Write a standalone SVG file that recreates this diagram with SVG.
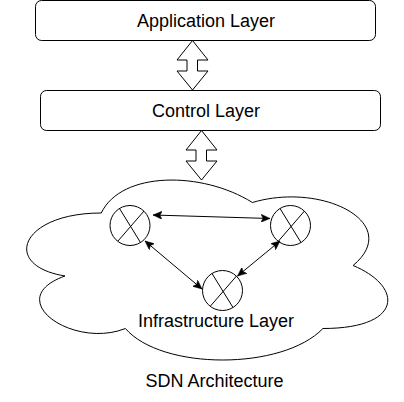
<svg xmlns="http://www.w3.org/2000/svg" width="404" height="402" viewBox="0 0 404 402">
<style>
.s{fill:#fff;stroke:#000;stroke-width:1}
.l{fill:none;stroke:#000;stroke-width:1}
text{font-family:"Liberation Sans",Arial,sans-serif;font-size:18px;fill:#000;text-anchor:middle}
</style>
<defs>
<marker id="a" viewBox="0 0 10 8" refX="9" refY="4" markerWidth="10" markerHeight="8" markerUnits="userSpaceOnUse" orient="auto-start-reverse"><path d="M0 0L9 4L0 8L2 4Z" fill="#000" stroke="#000" stroke-width="0.5"/></marker>
<g id="x"><circle class="s" r="20"/><path class="l" d="M-10.500 -17L10.500 17M14 -14.500L-12 15.500"/></g>
</defs>
<rect width="404" height="402" fill="#fff"/>
<g id="cloud"><path class="s" d="M101.250 213C20.650 213 .5 265.500 65 276C.5 299.100 73 349.500 125.400 328.500C161.700 370.500 282.500 370.500 322.900 328.500C403.500 328.500 403.500 286.500 353.100 265.500C403.500 223.500 322.900 181.500 252.400 202.500C202 171 121.400 171 101.250 213Z"/></g>
<g id="application"><rect class="s" x="35.500" y="0.500" width="340" height="40" rx="6" ry="6"/><text x="206" y="27">Application Layer</text></g>
<g id="control"><rect class="s" x="40.500" y="90.500" width="340" height="40" rx="6" ry="6"/><text x="206" y="117">Control Layer</text></g>
<g id="node1"><use href="#x" x="130" y="225.500"/></g>
<g id="node2"><use href="#x" x="290.500" y="225.500"/></g>
<g id="node3"><use href="#x" x="222.500" y="290.500"/></g>
<g id="connectors">
<path class="s" d="M192.500 40.500L208 60H197.500V71H208L192.500 90L177 71H187V60H177Z"/>
<path class="s" d="M201.500 130.500L217 150H206.500V161H217L201.500 180L186 161H196V150H186Z"/>
<path class="l" marker-start="url(#a)" marker-end="url(#a)" d="M153 215L270 218.500"/>
<path class="l" marker-start="url(#a)" marker-end="url(#a)" d="M145 241L202 289"/>
<path class="l" marker-start="url(#a)" marker-end="url(#a)" d="M280 241L237.500 276"/>
</g>
<text x="216" y="327">Infrastructure Layer</text>
<text x="214.500" y="387">SDN Architecture</text>
</svg>
